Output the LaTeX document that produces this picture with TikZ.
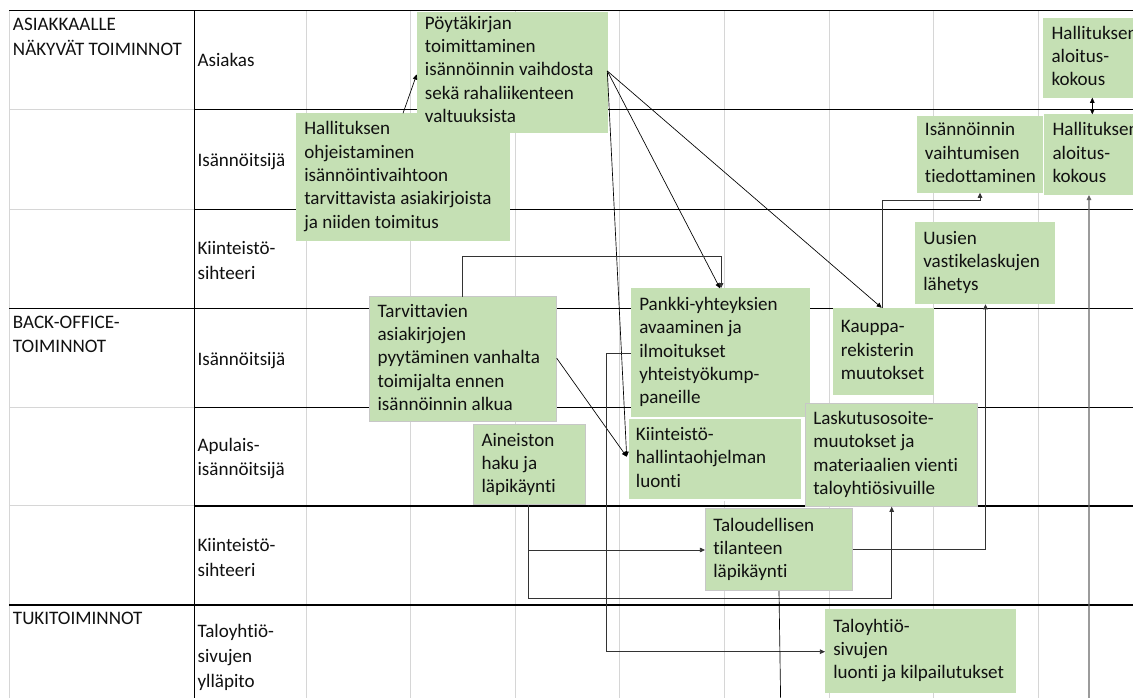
\documentclass[tikz,border=0pt]{standalone}
\usepackage{fontspec}
\setmainfont[Ligatures=NoCommon]{Carlito}
\usetikzlibrary{arrows.meta,calc,fit}
\definecolor{boxgreen}{HTML}{C5E0B4}
\definecolor{gridgray}{HTML}{D6D6D6}
\definecolor{txt}{HTML}{111111}
\begin{document}
\begin{tikzpicture}[x=0.75pt, y=-0.75pt,
  gridline/.style={draw=gridgray, line width=0.75pt},
  blackline/.style={draw=black, line width=0.8pt},
  gbox/.style={fill=boxgreen, inner sep=0pt, outer sep=0pt},
  gborder/.style={draw=black!22, line width=0.75pt},
  wborder/.style={draw=white, line width=1.5pt},
  btext/.style={anchor=west, align=left, inner sep=0pt, text=txt,
    font=\fontsize{14.3pt}{17.5pt}\selectfont, xshift=6pt},
  lbl/.style={anchor=west, align=left, inner sep=0pt, text=txt,
    font=\fontsize{14.3pt}{18.4pt}\selectfont},
  grp/.style={anchor=north west, align=left, inner sep=0pt, text=txt,
    font=\fontsize{14.3pt}{18.4pt}\selectfont},
  conn/.style={draw=black, line width=0.5pt, -{Triangle[length=3.8pt,width=3.4pt]}},
  elbow/.style={draw=black!80, line width=0.6pt, -{Triangle[length=3.8pt,width=3.4pt]}}
]
\useasboundingbox (0,0) rectangle (1133,698);
\begin{scope}
\clip (0,0) rectangle (1133,698);
\fill[white] (0,0) rectangle (1133,698);

% ---- grid ----
\draw[gridline] (9,10.7) -- (9,705);
\foreach \xx in {306,410.6,515.3,619.9,724.6,829.2,933.8,1038.5}
  \draw[gridline] (\xx,10.7) -- (\xx,705);
\foreach \yy in {109.3,209.3,407.3,506}
  \draw[gridline] (9,\yy) -- (194.3,\yy);
\foreach \yy in {10.7,308.3,605}
  \draw[blackline] (9,\yy) -- (1140,\yy);
\foreach \yy in {109.3,209.3,407.3,506}
  \draw[blackline] (194.3,\yy) -- (1140,\yy);
\draw[blackline] (194.3,10.7) -- (194.3,705);

% ---- lane labels ----
\node[grp] (g1) at (12.7,13.2) {\strut ASIAKKAALLE\\\strut NÄKYVÄT TOIMINNOT};
\node[grp] (g2) at (12.7,310.8) {\strut BACK-OFFICE-\\\strut TOIMINNOT};
\node[grp] (g3) at (12.7,607.5) {\strut TUKITOIMINNOT};

\node[lbl] (r1) at (197.3,61.8) {\strut Asiakas};
\node[lbl] (r2) at (197.3,161.8) {\strut Isännöitsijä};
\node[lbl] (r3) at (197.3,262) {\strut Kiinteistö-\\\strut sihteeri};
\node[lbl] (r4) at (197.3,361) {\strut Isännöitsijä};
\node[lbl] (r5) at (197.3,458.4) {\strut Apulais-\\\strut isännöitsijä};
\node[lbl] (r6) at (197.3,559) {\strut Kiinteistö-\\\strut sihteeri};
\node[lbl] (r7) at (197.3,657.6) {\strut Taloyhtiö-\\\strut sivujen\\\strut ylläpito};

% ---- boxes ----
\node[gbox, fit={(296,113.3) (510,240.7)}] (ho) {};
\node[btext] (ho-t) at (ho.west) {\strut Hallituksen\\\strut ohjeistaminen\\\strut isännöintivaihtoon\\\strut tarvittavista asiakirjoista\\\strut ja niiden toimitus};

\node[gbox, fit={(416.7,11.7) (608.3,133.3)}] (pk) {};
\node[btext, yshift=1pt] (pk-t) at (pk.west) {\strut Pöytäkirjan\\\strut toimittaminen\\\strut isännöinnin vaihdosta\\\strut sekä rahaliikenteen\\\strut valtuuksista};

\node[gbox, fit={(1043.3,18.3) (1165,97.7)}] (hak1) {};
\node[btext] (hak1-t) at (hak1.west) {\strut Hallituksen\\\strut aloitus-\\\strut kokous};

\node[gbox, fit={(1044.3,114.3) (1165,195)}] (hak2) {};
\node[btext] (hak2-t) at (hak2.west) {\strut Hallituksen\\\strut aloitus-\\\strut kokous};

\node[gbox, fit={(916.7,116) (1042.7,192.7)}] (ivt) {};
\node[btext] (ivt-t) at (ivt.west) {\strut Isännöinnin\\\strut vaihtumisen\\\strut tiedottaminen};

\node[gbox, fit={(915,221.7) (1055,304.3)}] (uv) {};
\node[btext] (uv-t) at (uv.west) {\strut Uusien\\\strut vastikelaskujen\\\strut lähetys};

\node[gbox, fit={(832.7,308.3) (934,395)}] (kr) {};
\node[btext] (kr-t) at (kr.west) {\strut Kauppa-\\\strut rekisterin\\\strut muutokset};

\node[gbox, gborder, fit={(369.3,296.7) (556.7,421.7)}] (ta) {};
\node[btext] (ta-t) at (ta.west) {\strut Tarvittavien\\\strut asiakirjojen\\\strut pyytäminen vanhalta\\\strut toimijalta ennen\\\strut isännöinnin alkua};

\node[gbox, fit={(631,288.3) (810,416.7)}] (pa) {};
\node[btext] (pa-t) at (pa.west) {\strut Pankki-yhteyksien\\\strut avaaminen ja\\\strut ilmoitukset\\\strut yhteistyökump-\\\strut paneille};

\node[gbox, gborder, fit={(805,403.3) (977.7,506.7)}] (lm) {};
\node[btext] (lm-t) at (lm.west) {\strut Laskutusosoite-\\\strut muutokset ja\\\strut materiaalien vienti\\\strut taloyhtiösivuille};

\node[gbox, gborder, fit={(473.3,425) (585,505)}] (ah) {};
\node[btext] (ah-t) at (ah.west) {\strut Aineiston\\\strut haku ja\\\strut läpikäynti};

\node[gbox, wborder, fit={(627.7,418.3) (802.3,500)}] (kh) {};
\node[btext] (kh-t) at (kh.west) {\strut Kiinteistö-\\\strut hallintaohjelman\\\strut luonti};

\node[gbox, gborder, fit={(705,509) (852.7,591)}] (tt) {};
\node[btext] (tt-t) at (tt.west) {\strut Taloudellisen\\\strut tilanteen\\\strut läpikäynti};

\node[gbox, fit={(825,609) (1015.7,692.7)}] (ts) {};
\node[btext] (ts-t) at (ts.west) {\strut Taloyhtiö-\\\strut sivujen\\\strut luonti ja kilpailutukset};

% ---- connectors ----
\draw[conn] ($(ho.north west)+(107,0)$) -- ($(pk.west)+(0,2)$);
\coordinate (pko) at ($(pk.east)+(-1,-1.5)$);
\draw[conn] (pko) -- ($(pa.north west)+(89,0)$);
\draw[conn] (pko) -- ($(kh.west)+(-1,-2.4)$);
\draw[conn] (pko) -- ($(kr.north west)+(49,-0.5)$);
\draw[conn] ($(ta.east)+(0,-1)$) -- ($(kh.west)+(-1,-2.4)$);

\draw[elbow] ($(ta.north west)+(93.4,0)$) -- ++(0,-40) -| ($(pa.north west)+(90,0)$);
\draw[elbow] ($(pa.west)+(0,0.8)$) -- ++(-24.3,0) |- ($(ts.west)+(0,0.85)$);
\draw[elbow] ($(ah.south west)+(55.5,0)$) |- (tt.west);
\draw[elbow] ($(ah.south west)+(55.5,0)$) -- ++(0,93.3) -| ($(lm.south west)+(86.7,0)$);
\draw[elbow] ($(tt.east)+(0,-0.7)$) -| ($(uv.south west)+(70.5,0)$);
\draw[elbow] ($(kr.north west)+(50,0)$) -- ++(0,-108.3) -| ($(ivt.south west)+(63.3,0)$);

\coordinate (hend) at (780.7,705);
\draw[conn, -] ($(tt.south west)+(74,0)$) -- (hend);
\coordinate (iend) at (1089,705);
\draw[elbow, draw=black!60, line width=0.9pt] (iend) -- ($(hak2.south west)+(44.7,0)$);
\draw[conn, {Triangle[length=3.8pt,width=3.4pt]}-{Triangle[length=3.8pt,width=3.4pt]}]
  ($(hak1.south west)+(49,0)$) -- ($(hak2.north west)+(48,0)$);
\end{scope}
\end{tikzpicture}
\end{document}
